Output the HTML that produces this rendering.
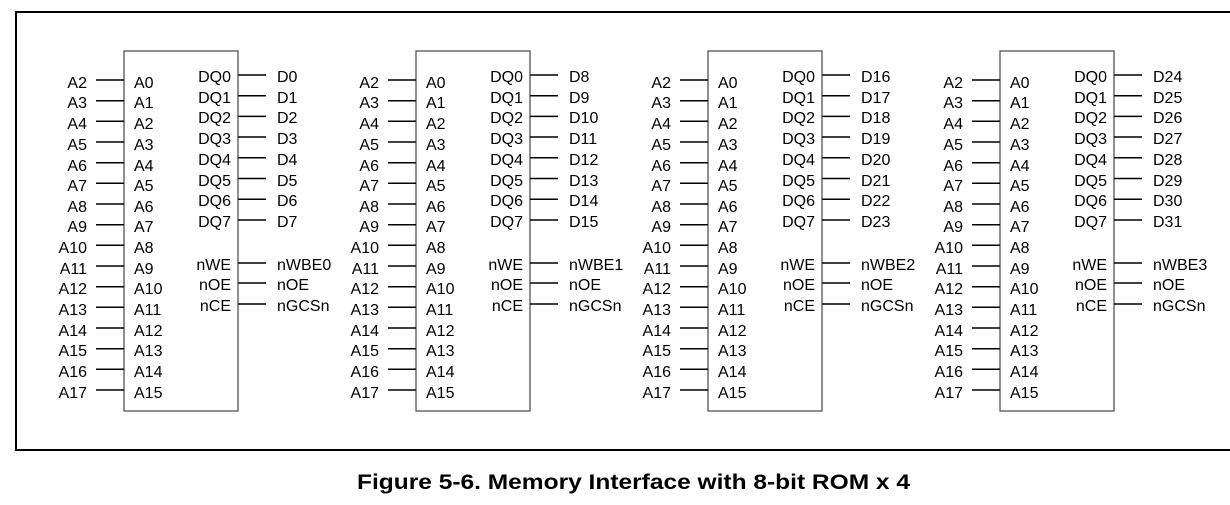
<!DOCTYPE html>
<html><head><meta charset="utf-8"><style>
html,body{margin:0;padding:0;background:#fff}
svg{display:block}
text{font-family:"Liberation Sans",Arial,sans-serif;font-size:16px;fill:#000}
.e{text-anchor:end}
</style></head><body>
<svg width="1230" height="505" viewBox="0 0 1230 505">
<rect x="16" y="12" width="1230" height="438" fill="none" stroke="#000" stroke-width="2"/>
<g id="b0">
<rect x="124" y="51" width="114" height="360" fill="none" stroke="#555" stroke-width="1.3"/>
<path stroke="#000" stroke-width="1.5" d="M96 80H124M96 100.7H124M96 121.3H124M96 142H124M96 162.7H124M96 183.3H124M96 204H124M96 224.7H124M96 245.3H124M96 266H124M96 286.7H124M96 307.3H124M96 328H124M96 348.7H124M96 369.3H124M96 390H124M238 75H266M238 95.7H266M238 116.4H266M238 137H266M238 157.8H266M238 178.5H266M238 199.2H266M238 220H266M238 263H266M238 283H266M238 304H266"/>
<text class="e" x="87" y="88">A2</text><text class="e" x="87" y="108">A3</text><text class="e" x="87" y="129">A4</text><text class="e" x="87" y="150">A5</text><text class="e" x="87" y="171">A6</text><text class="e" x="87" y="191">A7</text><text class="e" x="87" y="212">A8</text><text class="e" x="87" y="232">A9</text><text class="e" x="87" y="253">A10</text><text class="e" x="87" y="274">A11</text><text class="e" x="87" y="294">A12</text><text class="e" x="87" y="315">A13</text><text class="e" x="87" y="336">A14</text><text class="e" x="87" y="356">A15</text><text class="e" x="87" y="377">A16</text><text class="e" x="87" y="398">A17</text>
<text x="134" y="88">A0</text><text x="134" y="108">A1</text><text x="134" y="129">A2</text><text x="134" y="150">A3</text><text x="134" y="171">A4</text><text x="134" y="191">A5</text><text x="134" y="212">A6</text><text x="134" y="232">A7</text><text x="134" y="253">A8</text><text x="134" y="274">A9</text><text x="134" y="294">A10</text><text x="134" y="315">A11</text><text x="134" y="336">A12</text><text x="134" y="356">A13</text><text x="134" y="377">A14</text><text x="134" y="398">A15</text>
<text class="e" x="231" y="82">DQ0</text><text class="e" x="231" y="103">DQ1</text><text class="e" x="231" y="123">DQ2</text><text class="e" x="231" y="144">DQ3</text><text class="e" x="231" y="165">DQ4</text><text class="e" x="231" y="186">DQ5</text><text class="e" x="231" y="206">DQ6</text><text class="e" x="231" y="227">DQ7</text><text class="e" x="231" y="270">nWE</text><text class="e" x="231" y="290">nOE</text><text class="e" x="231" y="311">nCE</text>
<text x="277" y="82">D0</text><text x="277" y="103">D1</text><text x="277" y="123">D2</text><text x="277" y="144">D3</text><text x="277" y="165">D4</text><text x="277" y="186">D5</text><text x="277" y="206">D6</text><text x="277" y="227">D7</text><text x="277" y="270">nWBE0</text><text x="277" y="290">nOE</text><text x="277" y="311">nGCSn</text>
</g>
<g transform="translate(292,0)">
<rect x="124" y="51" width="114" height="360" fill="none" stroke="#555" stroke-width="1.3"/>
<path stroke="#000" stroke-width="1.5" d="M96 80H124M96 100.7H124M96 121.3H124M96 142H124M96 162.7H124M96 183.3H124M96 204H124M96 224.7H124M96 245.3H124M96 266H124M96 286.7H124M96 307.3H124M96 328H124M96 348.7H124M96 369.3H124M96 390H124M238 75H266M238 95.7H266M238 116.4H266M238 137H266M238 157.8H266M238 178.5H266M238 199.2H266M238 220H266M238 263H266M238 283H266M238 304H266"/>
<text class="e" x="87" y="88">A2</text><text class="e" x="87" y="108">A3</text><text class="e" x="87" y="129">A4</text><text class="e" x="87" y="150">A5</text><text class="e" x="87" y="171">A6</text><text class="e" x="87" y="191">A7</text><text class="e" x="87" y="212">A8</text><text class="e" x="87" y="232">A9</text><text class="e" x="87" y="253">A10</text><text class="e" x="87" y="274">A11</text><text class="e" x="87" y="294">A12</text><text class="e" x="87" y="315">A13</text><text class="e" x="87" y="336">A14</text><text class="e" x="87" y="356">A15</text><text class="e" x="87" y="377">A16</text><text class="e" x="87" y="398">A17</text>
<text x="134" y="88">A0</text><text x="134" y="108">A1</text><text x="134" y="129">A2</text><text x="134" y="150">A3</text><text x="134" y="171">A4</text><text x="134" y="191">A5</text><text x="134" y="212">A6</text><text x="134" y="232">A7</text><text x="134" y="253">A8</text><text x="134" y="274">A9</text><text x="134" y="294">A10</text><text x="134" y="315">A11</text><text x="134" y="336">A12</text><text x="134" y="356">A13</text><text x="134" y="377">A14</text><text x="134" y="398">A15</text>
<text class="e" x="231" y="82">DQ0</text><text class="e" x="231" y="103">DQ1</text><text class="e" x="231" y="123">DQ2</text><text class="e" x="231" y="144">DQ3</text><text class="e" x="231" y="165">DQ4</text><text class="e" x="231" y="186">DQ5</text><text class="e" x="231" y="206">DQ6</text><text class="e" x="231" y="227">DQ7</text><text class="e" x="231" y="270">nWE</text><text class="e" x="231" y="290">nOE</text><text class="e" x="231" y="311">nCE</text>
<text x="277" y="82">D8</text><text x="277" y="103">D9</text><text x="277" y="123">D10</text><text x="277" y="144">D11</text><text x="277" y="165">D12</text><text x="277" y="186">D13</text><text x="277" y="206">D14</text><text x="277" y="227">D15</text><text x="277" y="270">nWBE1</text><text x="277" y="290">nOE</text><text x="277" y="311">nGCSn</text>
</g>
<g transform="translate(584,0)">
<rect x="124" y="51" width="114" height="360" fill="none" stroke="#555" stroke-width="1.3"/>
<path stroke="#000" stroke-width="1.5" d="M96 80H124M96 100.7H124M96 121.3H124M96 142H124M96 162.7H124M96 183.3H124M96 204H124M96 224.7H124M96 245.3H124M96 266H124M96 286.7H124M96 307.3H124M96 328H124M96 348.7H124M96 369.3H124M96 390H124M238 75H266M238 95.7H266M238 116.4H266M238 137H266M238 157.8H266M238 178.5H266M238 199.2H266M238 220H266M238 263H266M238 283H266M238 304H266"/>
<text class="e" x="87" y="88">A2</text><text class="e" x="87" y="108">A3</text><text class="e" x="87" y="129">A4</text><text class="e" x="87" y="150">A5</text><text class="e" x="87" y="171">A6</text><text class="e" x="87" y="191">A7</text><text class="e" x="87" y="212">A8</text><text class="e" x="87" y="232">A9</text><text class="e" x="87" y="253">A10</text><text class="e" x="87" y="274">A11</text><text class="e" x="87" y="294">A12</text><text class="e" x="87" y="315">A13</text><text class="e" x="87" y="336">A14</text><text class="e" x="87" y="356">A15</text><text class="e" x="87" y="377">A16</text><text class="e" x="87" y="398">A17</text>
<text x="134" y="88">A0</text><text x="134" y="108">A1</text><text x="134" y="129">A2</text><text x="134" y="150">A3</text><text x="134" y="171">A4</text><text x="134" y="191">A5</text><text x="134" y="212">A6</text><text x="134" y="232">A7</text><text x="134" y="253">A8</text><text x="134" y="274">A9</text><text x="134" y="294">A10</text><text x="134" y="315">A11</text><text x="134" y="336">A12</text><text x="134" y="356">A13</text><text x="134" y="377">A14</text><text x="134" y="398">A15</text>
<text class="e" x="231" y="82">DQ0</text><text class="e" x="231" y="103">DQ1</text><text class="e" x="231" y="123">DQ2</text><text class="e" x="231" y="144">DQ3</text><text class="e" x="231" y="165">DQ4</text><text class="e" x="231" y="186">DQ5</text><text class="e" x="231" y="206">DQ6</text><text class="e" x="231" y="227">DQ7</text><text class="e" x="231" y="270">nWE</text><text class="e" x="231" y="290">nOE</text><text class="e" x="231" y="311">nCE</text>
<text x="277" y="82">D16</text><text x="277" y="103">D17</text><text x="277" y="123">D18</text><text x="277" y="144">D19</text><text x="277" y="165">D20</text><text x="277" y="186">D21</text><text x="277" y="206">D22</text><text x="277" y="227">D23</text><text x="277" y="270">nWBE2</text><text x="277" y="290">nOE</text><text x="277" y="311">nGCSn</text>
</g>
<g transform="translate(876,0)">
<rect x="124" y="51" width="114" height="360" fill="none" stroke="#555" stroke-width="1.3"/>
<path stroke="#000" stroke-width="1.5" d="M96 80H124M96 100.7H124M96 121.3H124M96 142H124M96 162.7H124M96 183.3H124M96 204H124M96 224.7H124M96 245.3H124M96 266H124M96 286.7H124M96 307.3H124M96 328H124M96 348.7H124M96 369.3H124M96 390H124M238 75H266M238 95.7H266M238 116.4H266M238 137H266M238 157.8H266M238 178.5H266M238 199.2H266M238 220H266M238 263H266M238 283H266M238 304H266"/>
<text class="e" x="87" y="88">A2</text><text class="e" x="87" y="108">A3</text><text class="e" x="87" y="129">A4</text><text class="e" x="87" y="150">A5</text><text class="e" x="87" y="171">A6</text><text class="e" x="87" y="191">A7</text><text class="e" x="87" y="212">A8</text><text class="e" x="87" y="232">A9</text><text class="e" x="87" y="253">A10</text><text class="e" x="87" y="274">A11</text><text class="e" x="87" y="294">A12</text><text class="e" x="87" y="315">A13</text><text class="e" x="87" y="336">A14</text><text class="e" x="87" y="356">A15</text><text class="e" x="87" y="377">A16</text><text class="e" x="87" y="398">A17</text>
<text x="134" y="88">A0</text><text x="134" y="108">A1</text><text x="134" y="129">A2</text><text x="134" y="150">A3</text><text x="134" y="171">A4</text><text x="134" y="191">A5</text><text x="134" y="212">A6</text><text x="134" y="232">A7</text><text x="134" y="253">A8</text><text x="134" y="274">A9</text><text x="134" y="294">A10</text><text x="134" y="315">A11</text><text x="134" y="336">A12</text><text x="134" y="356">A13</text><text x="134" y="377">A14</text><text x="134" y="398">A15</text>
<text class="e" x="231" y="82">DQ0</text><text class="e" x="231" y="103">DQ1</text><text class="e" x="231" y="123">DQ2</text><text class="e" x="231" y="144">DQ3</text><text class="e" x="231" y="165">DQ4</text><text class="e" x="231" y="186">DQ5</text><text class="e" x="231" y="206">DQ6</text><text class="e" x="231" y="227">DQ7</text><text class="e" x="231" y="270">nWE</text><text class="e" x="231" y="290">nOE</text><text class="e" x="231" y="311">nCE</text>
<text x="277" y="82">D24</text><text x="277" y="103">D25</text><text x="277" y="123">D26</text><text x="277" y="144">D27</text><text x="277" y="165">D28</text><text x="277" y="186">D29</text><text x="277" y="206">D30</text><text x="277" y="227">D31</text><text x="277" y="270">nWBE3</text><text x="277" y="290">nOE</text><text x="277" y="311">nGCSn</text>
</g>
<text x="357" y="489" style="font-size:21px;font-weight:bold" textLength="553" lengthAdjust="spacingAndGlyphs">Figure 5-6. Memory Interface with 8-bit ROM x 4</text>
</svg>
</body></html>
